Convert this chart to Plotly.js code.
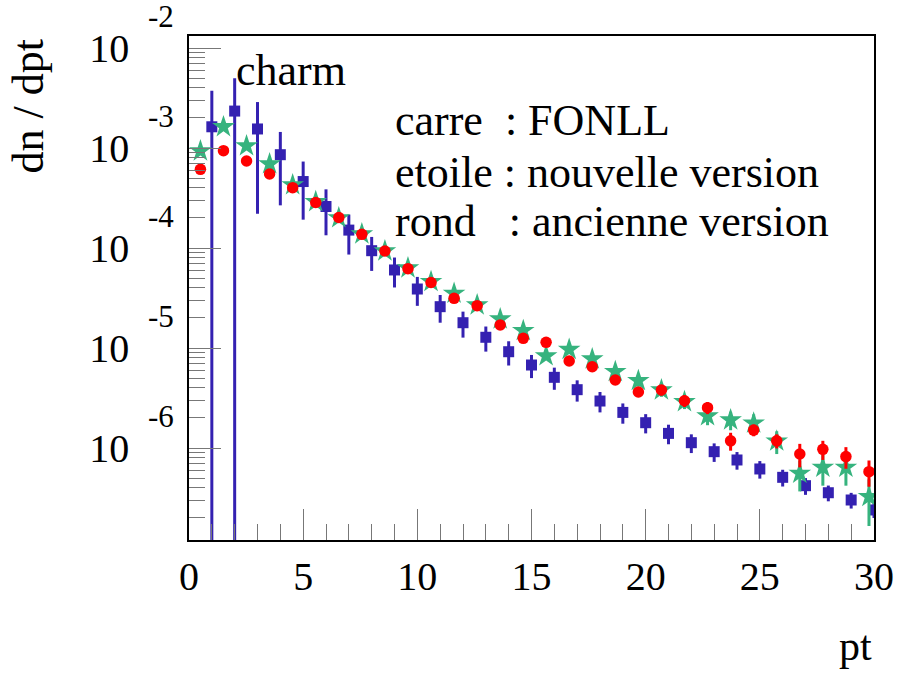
<!DOCTYPE html>
<html>
<head>
<meta charset="utf-8">
<script src="https://cdn.plot.ly/plotly-3.0.1.min.js"></script>
<style>html,body{margin:0;padding:0;background:#fff;}#plot{width:899px;height:673px;}</style>
</head>
<body>
<div id="plot"></div>
<script>
// ---- data ----
// FONLL (carre, blue squares)
var fonllX = [1,2,3,4,5,6,7,8,9,10,11,12,13,14,15,16,17,18,19,20,21,22,23,24,25,26,27,28,29,30];
var fonllY = [1.63e-3,2.34e-3,1.55e-3,8.57e-4,4.62e-4,2.6e-4,1.51e-4,9.4e-5,6.03e-5,3.89e-5,
              2.59e-5,1.79e-5,1.28e-5,9.18e-6,6.76e-6,5.09e-6,3.83e-6,2.95e-6,2.27e-6,1.79e-6,
              1.40e-6,1.13e-6,9.19e-7,7.59e-7,6.17e-7,5.09e-7,4.2e-7,3.57e-7,3.02e-7,2.4e-7];
var fonllErr = [2.11e-3,2.64e-3,1.33e-3,5.9e-4,2.7e-4,1.26e-4,6.5e-5,3.5e-5,2.0e-5,1.25e-5,
                8.0e-6,5.2e-6,3.6e-6,2.5e-6,1.76e-6,1.27e-6,9.2e-7,6.8e-7,5.2e-7,3.9e-7,
                3.1e-7,2.4e-7,1.93e-7,1.52e-7,1.23e-7,9.7e-8,8.0e-8,6.4e-8,5.4e-8,4.1e-8];

// etoile (nouvelle version) and rond (ancienne version) share the same bin centres
var binX = [0.5,1.51,2.52,3.53,4.54,5.55,6.56,7.57,8.58,9.59,10.6,11.61,12.62,13.63,14.64,
            15.64,16.65,17.66,18.67,19.68,20.69,21.7,22.71,23.72,24.73,25.74,26.75,27.76,28.77,29.78];
var newY = [9.33e-4,1.63e-3,1.05e-3,6.92e-4,4.27e-4,2.9e-4,2.0e-4,1.38e-4,9.33e-5,6.31e-5,
            4.6e-5,3.52e-5,2.69e-5,1.95e-5,1.49e-5,8.32e-6,9.66e-6,7.76e-6,5.8e-6,4.71e-6,
            3.8e-6,2.9e-6,2.09e-6,1.905e-6,1.77e-6,1.17e-6,5.58e-7,6.4e-7,6.4e-7,3.26e-7];
var newErr = [1.9e-5,3.3e-5,2.1e-5,1.4e-5,1.0e-5,8e-6,6e-6,4.5e-6,3.5e-6,2.6e-6,
              2.2e-6,1.9e-6,1.6e-6,1.3e-6,1.1e-6,7e-7,9e-7,8e-7,7e-7,6e-7,
              5.5e-7,4.5e-7,4e-7,4e-7,4e-7,3e-7,1.9e-7,2.2e-7,2.2e-7,1.6e-7];
var oldY = [6.12e-4,9.4e-4,7.41e-4,5.5e-4,4.01e-4,2.85e-4,2.02e-4,1.37e-4,9.33e-5,6.21e-5,
            4.52e-5,3.14e-5,2.65e-5,1.7e-5,1.25e-5,1.14e-5,7.41e-6,6.5e-6,4.79e-6,3.63e-6,
            3.8e-6,2.97e-6,2.53e-6,1.18e-6,1.51e-6,1.18e-6,8.7e-7,9.7e-7,8.2e-7,5.8e-7];
var oldErr = [1.2e-5,1.9e-5,1.5e-5,1.1e-5,8e-6,6e-6,4.5e-6,3.5e-6,2.6e-6,2e-6,
              1.6e-6,1.3e-6,1.2e-6,9e-7,8e-7,8e-7,6e-7,5.5e-7,4.5e-7,4e-7,
              4.5e-7,4e-7,3.5e-7,2.4e-7,2.0e-7,1.9e-7,2.3e-7,2.1e-7,2.0e-7,1.7e-7];

// tick labels
var xTickVals = [0,5,10,15,20,25,30];
var xTickText = ['0','5','10','15','20','25','30'];
var yTickVals = [1e-6,1e-5,1e-4,1e-3,1e-2];
var yTickText = ['10','10','10','10','10'];
var yExpText  = ['-6','-5','-4','-3','-2'];
var yExpPos   = [-6,-5,-4,-3,-2];

var legendLines = ['carre\u00A0\u00A0: FONLL', 'etoile : nouvelle version', 'rond\u00A0\u00A0\u00A0: ancienne version'];
var legendYs = [0.8333, 0.7292, 0.6312];

// ---- styling ----
var FONT = '"Liberation Serif", "Times New Roman", Times, serif';
var BLUE = '#3421B1', GREEN = '#36B37E', RED = '#FF0000';

var minorY = [];
for (var e = -7; e <= -2; e++) {
  for (var m = 2; m <= 9; m++) minorY.push(m * Math.pow(10, e));
}

var traces = [
  {x: fonllX, y: fonllY, type: 'scatter', mode: 'markers', name: 'FONLL',
   marker: {symbol: 'square', size: 11, color: BLUE},
   error_y: {type: 'data', array: fonllErr, visible: true, color: BLUE, thickness: 3, width: 0}},
  {x: binX, y: newY, type: 'scatter', mode: 'markers', name: 'nouvelle',
   marker: {symbol: 'star', size: 17, color: GREEN},
   error_y: {type: 'data', array: newErr, visible: true, color: GREEN, thickness: 3, width: 0}},
  {x: binX, y: oldY, type: 'scatter', mode: 'markers', name: 'ancienne',
   marker: {symbol: 'circle', size: 11.5, color: RED},
   error_y: {type: 'data', array: oldErr, visible: true, color: RED, thickness: 3, width: 0}}
];

var annotations = [];
for (var i = 0; i < yExpText.length; i++) {
  annotations.push({text: yExpText[i], xref: 'paper', yref: 'y', x: -0.0625, y: yExpPos[i],
    xanchor: 'left', yanchor: 'middle', yshift: 32, showarrow: false,
    font: {family: FONT, size: 31, color: '#000'}});
}
for (var j = 0; j < legendLines.length; j++) {
  annotations.push({text: legendLines[j], xref: 'paper', yref: 'paper', x: 0.2985, y: legendYs[j],
    xanchor: 'left', yanchor: 'middle', showarrow: false,
    font: {family: FONT, size: 44, color: '#000'}});
}
annotations.push({text: 'charm', xref: 'paper', yref: 'paper', x: 0.065, y: 0.9306,
  xanchor: 'left', yanchor: 'middle', showarrow: false, font: {family: FONT, size: 44, color: '#000'}});
annotations.push({text: 'pt', xref: 'paper', yref: 'paper', x: 1.0, y: -0.21,
  xanchor: 'right', yanchor: 'middle', showarrow: false, font: {family: FONT, size: 42, color: '#000'}});
annotations.push({text: 'dn / dpt', xref: 'paper', yref: 'paper', x: -0.2336, y: 0.86,
  xanchor: 'center', yanchor: 'middle', textangle: -90, showarrow: false,
  font: {family: FONT, size: 44, color: '#000'}});

var layout = {
  width: 899, height: 673,
  margin: {l: 189, r: 25, t: 36, b: 133},
  paper_bgcolor: '#fff', plot_bgcolor: '#fff',
  showlegend: false,
  font: {family: FONT, color: '#000'},
  xaxis: {
    range: [0, 30], tickmode: 'array', tickvals: xTickVals, ticktext: xTickText,
    ticks: 'inside', ticklen: 31, tickwidth: 1, tickcolor: '#777',
    tickfont: {family: FONT, size: 40, color: '#000'}, ticklabelstandoff: 0,
    showline: true, linecolor: '#000', linewidth: 1.8, mirror: true,
    showgrid: false, zeroline: false,
    minor: {tickmode: 'linear', tick0: 0, dtick: 1, ticks: 'inside', ticklen: 16, tickwidth: 1, tickcolor: '#777', showgrid: false}
  },
  yaxis: {
    type: 'log', range: [-6.92, -1.88], tickmode: 'array', tickvals: yTickVals, ticktext: yTickText,
    ticks: 'inside', ticklen: 32, tickwidth: 1, tickcolor: '#777',
    tickfont: {family: FONT, size: 40, color: '#000'}, ticklabelstandoff: 50,
    showline: true, linecolor: '#000', linewidth: 1.8, mirror: true,
    showgrid: false, zeroline: false,
    minor: {tickmode: 'array', tickvals: minorY, ticks: 'inside', ticklen: 16, tickwidth: 1, tickcolor: '#777', showgrid: false}
  },
  annotations: annotations
};

Plotly.newPlot('plot', traces, layout, {displayModeBar: false, staticPlot: true});
</script>
</body>
</html>
